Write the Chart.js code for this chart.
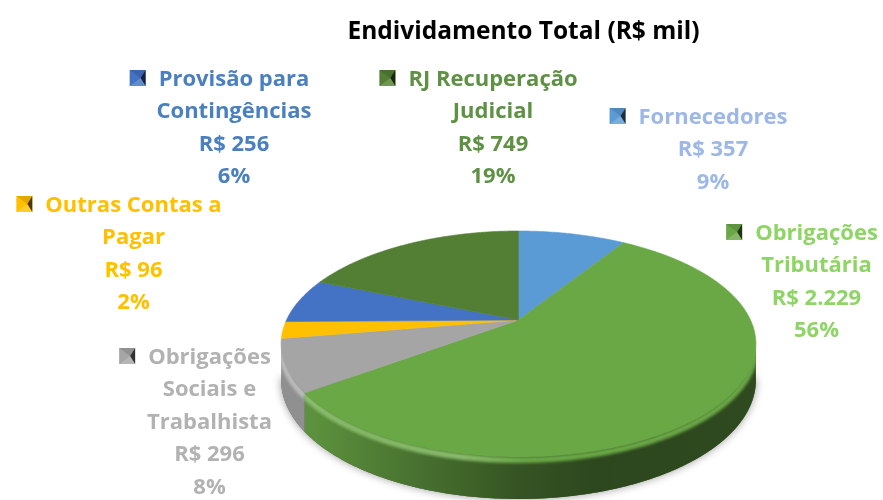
<!DOCTYPE html>
<html>
<head>
<meta charset="utf-8">
<title>Endividamento Total</title>
<script src="https://cdn.jsdelivr.net/npm/chart.js@4"></script>
<style>
    body { margin: 0; background: #fff; }
    canvas { display: block; filter: blur(0.5px); }
</style>
</head>
<body>
<canvas id="pie3d" width="883" height="500"></canvas>
<script>
// Data, clockwise from 12 o'clock
const categories = [
    ['Fornecedores'],
    ['Obrigações', 'Tributária'],
    ['Obrigações', 'Sociais e', 'Trabalhista'],
    ['Outras Contas a', 'Pagar'],
    ['Provisão para', 'Contingências'],
    ['RJ Recuperação', 'Judicial']
];
const values = [357, 2229, 296, 96, 256, 749];
const percents = ['9%', '56%', '8%', '2%', '6%', '19%'];
const amounts = ['R$ 357', 'R$ 2.229', 'R$ 296', 'R$ 96', 'R$ 256', 'R$ 749'];

const sliceColors = ['#5B9BD5', '#6AA846', '#A5A5A5', '#FFC000', '#4472C4', '#527F34'];
const textColors = ['#9DB8E6', '#8ED566', '#B2B2B2', '#FFC000', '#4A80C0', '#5F9145'];

// label block centre and first baseline, same order as categories
const labelCenters = [713, 816.5, 209.5, 133.5, 234, 493];
const labelTops = [124, 240, 364, 212, 86, 86];
const LINE_STEP = 32.4;
const LABEL_FONT = '700 22px "Open Sans"';

// perspective of the pie top: circle -> ellipse with the apex off centre
const PIE = { x: 518.5, y: 320, a: 232, b: 107.9, q: 0.2124 };
// only this part of the rim shows a wall (the ellipse is widest here)
const FRONT_START = 0.2;
const FRONT_END = Math.PI - 0.2;

function project(angle, drop) {
    const u = Math.cos(angle), v = Math.sin(angle);
    const w = 1 - PIE.q * v;
    return [PIE.x + PIE.a * u / w, PIE.y + PIE.b * v / w + drop(v)];
}

const noDrop = () => 0;
const rimDrop = () => 3;
const wallDrop = v => 34 + 8 * v;

function arcPoints(start, end, drop) {
    const pts = [];
    const n = Math.max(2, Math.ceil((end - start) / 0.01));
    for (let i = 0; i <= n; i++) pts.push(project(start + (end - start) * i / n, drop));
    return pts;
}

function tracePoints(ctx, pts, first) {
    pts.forEach((p, i) => {
        if (i === 0 && first) ctx.moveTo(p[0], p[1]);
        else ctx.lineTo(p[0], p[1]);
    });
}

function wallShade(ctx) {
    const g = ctx.createLinearGradient(280, 0, 757, 0);
    g.addColorStop(0, 'rgba(0,0,0,0.13)');
    g.addColorStop(0.06, 'rgba(0,0,0,0.13)');
    g.addColorStop(0.21, 'rgba(0,0,0,0.26)');
    g.addColorStop(0.5, 'rgba(0,0,0,0.5)');
    g.addColorStop(0.67, 'rgba(0,0,0,0.58)');
    g.addColorStop(1, 'rgba(0,0,0,0.56)');
    return g;
}

function rimGlow(ctx) {
    const g = ctx.createLinearGradient(280, 0, 757, 0);
    g.addColorStop(0, 'rgba(255,255,255,0.25)');
    g.addColorStop(0.18, 'rgba(255,255,255,0.18)');
    g.addColorStop(0.38, 'rgba(255,255,255,0.22)');
    g.addColorStop(0.52, 'rgba(255,255,255,0)');
    g.addColorStop(1, 'rgba(255,255,255,0)');
    return g;
}

function drawMarker(ctx, x, y, color) {
    const s = 16, c = s / 2;
    ctx.fillStyle = color;
    ctx.fillRect(x, y, s, s);
    const tri = (pts, fill) => {
        ctx.beginPath();
        ctx.moveTo(pts[0][0], pts[0][1]);
        ctx.lineTo(pts[1][0], pts[1][1]);
        ctx.lineTo(x + c + 3, y + c);
        ctx.closePath();
        ctx.fillStyle = fill;
        ctx.fill();
    };
    tri([[x, y], [x + s, y]], 'rgba(0,0,0,0.12)');
    tri([[x + s, y], [x + s, y + s]], 'rgba(0,0,0,0.7)');
    tri([[x, y + s], [x + s, y + s]], 'rgba(255,255,255,0.18)');
}

// the library keeps the slice angles; we only project them
const pie3dPlugin = {
    id: 'pie3d',
    beforeDatasetDraw(chart, args) {
        const ctx = chart.ctx;
        const arcs = chart.getDatasetMeta(args.index).data;

        // floor shadow
        ctx.save();
        ctx.shadowColor = 'rgba(0,0,0,0.4)';
        ctx.shadowBlur = 9;
        ctx.fillStyle = '#555';
        ctx.beginPath();
        tracePoints(ctx, arcPoints(FRONT_START, FRONT_END, wallDrop), true);
        ctx.closePath();
        ctx.fill();
        ctx.restore();

        // side walls, front part of the rim only
        arcs.forEach((arc, i) => {
            const { startAngle, endAngle } = arc.getProps(['startAngle', 'endAngle'], true);
            const s = Math.max(startAngle, FRONT_START), e = Math.min(endAngle, FRONT_END);
            if (e <= s) return;
            ctx.beginPath();
            tracePoints(ctx, arcPoints(s, e, noDrop), true);
            tracePoints(ctx, arcPoints(s, e, wallDrop).reverse(), false);
            ctx.closePath();
            ctx.fillStyle = sliceColors[i];
            ctx.fill();
            ctx.fillStyle = wallShade(ctx);
            ctx.fill();
        });

        // bevel on the rim, sits just under the top face and stays inside the wall
        ctx.save();
        ctx.beginPath();
        tracePoints(ctx, arcPoints(FRONT_START, FRONT_END, noDrop), true);
        tracePoints(ctx, arcPoints(FRONT_START, FRONT_END, wallDrop).reverse(), false);
        ctx.closePath();
        ctx.clip();
        arcs.forEach((arc, i) => {
            const { startAngle, endAngle } = arc.getProps(['startAngle', 'endAngle'], true);
            const s = Math.max(startAngle, FRONT_START), e = Math.min(endAngle, FRONT_END);
            if (e <= s) return;
            ctx.save();
            ctx.filter = 'blur(1.5px)';
            ctx.lineWidth = 6;
            ctx.beginPath();
            tracePoints(ctx, arcPoints(s, e, rimDrop), true);
            ctx.strokeStyle = sliceColors[i];
            ctx.stroke();
            ctx.strokeStyle = rimGlow(ctx);
            ctx.stroke();
            ctx.restore();
        });
        ctx.restore();

        // top faces
        arcs.forEach((arc, i) => {
            const { startAngle, endAngle } = arc.getProps(['startAngle', 'endAngle'], true);
            ctx.beginPath();
            ctx.moveTo(PIE.x, PIE.y);
            tracePoints(ctx, arcPoints(startAngle, endAngle, noDrop), false);
            ctx.closePath();
            ctx.fillStyle = sliceColors[i];
            ctx.strokeStyle = sliceColors[i];
            ctx.lineWidth = 0.6;
            ctx.fill();
            ctx.stroke();
        });
        return false;
    },
    afterDraw(chart) {
        const ctx = chart.ctx;
        ctx.save();
        ctx.font = LABEL_FONT;
        ctx.textAlign = 'center';
        ctx.textBaseline = 'alphabetic';
        categories.forEach((lines, i) => {
            const all = lines.concat([amounts[i], percents[i]]);
            const cx = labelCenters[i];
            all.forEach((line, k) => {
                ctx.fillStyle = textColors[i];
                ctx.fillText(line, cx, labelTops[i] + k * LINE_STEP);
            });
            const w = ctx.measureText(lines[0]).width;
            drawMarker(ctx, cx - w / 2 - 29, labelTops[i] - 16, sliceColors[i]);
        });
        ctx.restore();
    }
};

new Chart(document.getElementById('pie3d'), {
    type: 'pie',
    plugins: [pie3dPlugin],
    data: {
        labels: categories.map(l => l.join(' ')),
        datasets: [{ data: values, backgroundColor: sliceColors, borderWidth: 0 }]
    },
    options: {
        responsive: false,
        animation: false,
        layout: { padding: { left: 164, top: 17 } },
        plugins: {
            legend: { display: false },
            tooltip: { enabled: false },
            title: {
                display: true,
                text: 'Endividamento Total (R$ mil)',
                color: '#000',
                font: { family: 'Open Sans', size: 24.5, weight: '700' },
                padding: { top: 0, bottom: 10 }
            }
        }
    }
});
</script>
</body>
</html>
